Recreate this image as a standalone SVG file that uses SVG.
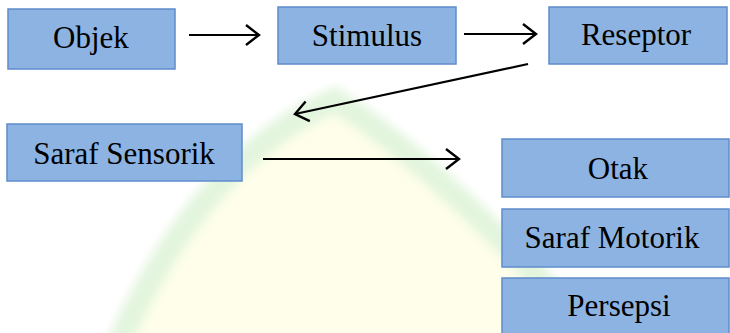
<svg xmlns="http://www.w3.org/2000/svg" width="730" height="333" viewBox="0 0 730 333">
  <style>
    .box { fill: #8db3e2; stroke: #5f8ccb; stroke-width: 1.5; }
    .t { font-family: 'Liberation Serif', 'Times New Roman', serif; font-size: 31px; fill: #000; text-anchor: middle; }
    .conn { stroke: #000; stroke-width: 2.2; fill: none; marker-end: url(#arr); }
  </style>
  <defs>
    <marker id="arr" markerUnits="userSpaceOnUse" viewBox="-16 -12 20 24" refX="0" refY="0" markerWidth="20" markerHeight="24" orient="auto" overflow="visible">
      <path d="M-13,-10 L0,0 L-13,10" fill="none" stroke="#000" stroke-width="2.4"/>
    </marker>
    <filter id="blur" x="-10%" y="-10%" width="120%" height="120%">
      <feGaussianBlur stdDeviation="5"/>
    </filter>
  </defs>
  <rect width="730" height="333" fill="#ffffff"/>
  <g id="watermark" filter="url(#blur)">
    <path d="M118,345 Q200,160 335,100 Q445,170 600,345 Z" fill="#fefeea"/>
    <path d="M118,345 Q200,160 335,100 Q445,170 600,345" fill="none" stroke="#e3f5de" stroke-width="24"/>
  </g>
  <g id="connectors">
    <line class="conn" x1="189" y1="35" x2="259" y2="35"/>
    <line class="conn" x1="464" y1="34" x2="536" y2="34"/>
    <line class="conn" x1="528" y1="64" x2="295" y2="114"/>
    <line class="conn" x1="263" y1="159" x2="459" y2="159"/>
  </g>
  <g id="objek">
    <rect class="box" x="8" y="9" width="167" height="60"/>
    <text class="t" x="91" y="48">Objek</text>
  </g>
  <g id="stimulus">
    <rect class="box" x="278" y="7" width="178" height="57"/>
    <text class="t" x="367" y="46">Stimulus</text>
  </g>
  <g id="reseptor">
    <rect class="box" x="549" y="7" width="178" height="57"/>
    <text class="t" x="636" y="45">Reseptor</text>
  </g>
  <g id="saraf-sensorik">
    <rect class="box" x="7" y="124" width="235" height="57"/>
    <text class="t" x="124" y="164">Saraf Sensorik</text>
  </g>
  <g id="otak">
    <rect class="box" x="502" y="139" width="227" height="58"/>
    <text class="t" x="618" y="179">Otak</text>
  </g>
  <g id="saraf-motorik">
    <rect class="box" x="502" y="209" width="227" height="58"/>
    <text class="t" x="612" y="248">Saraf Motorik</text>
  </g>
  <g id="persepsi">
    <rect class="box" x="502" y="278" width="227" height="60"/>
    <text class="t" x="619" y="316">Persepsi</text>
  </g>
</svg>
